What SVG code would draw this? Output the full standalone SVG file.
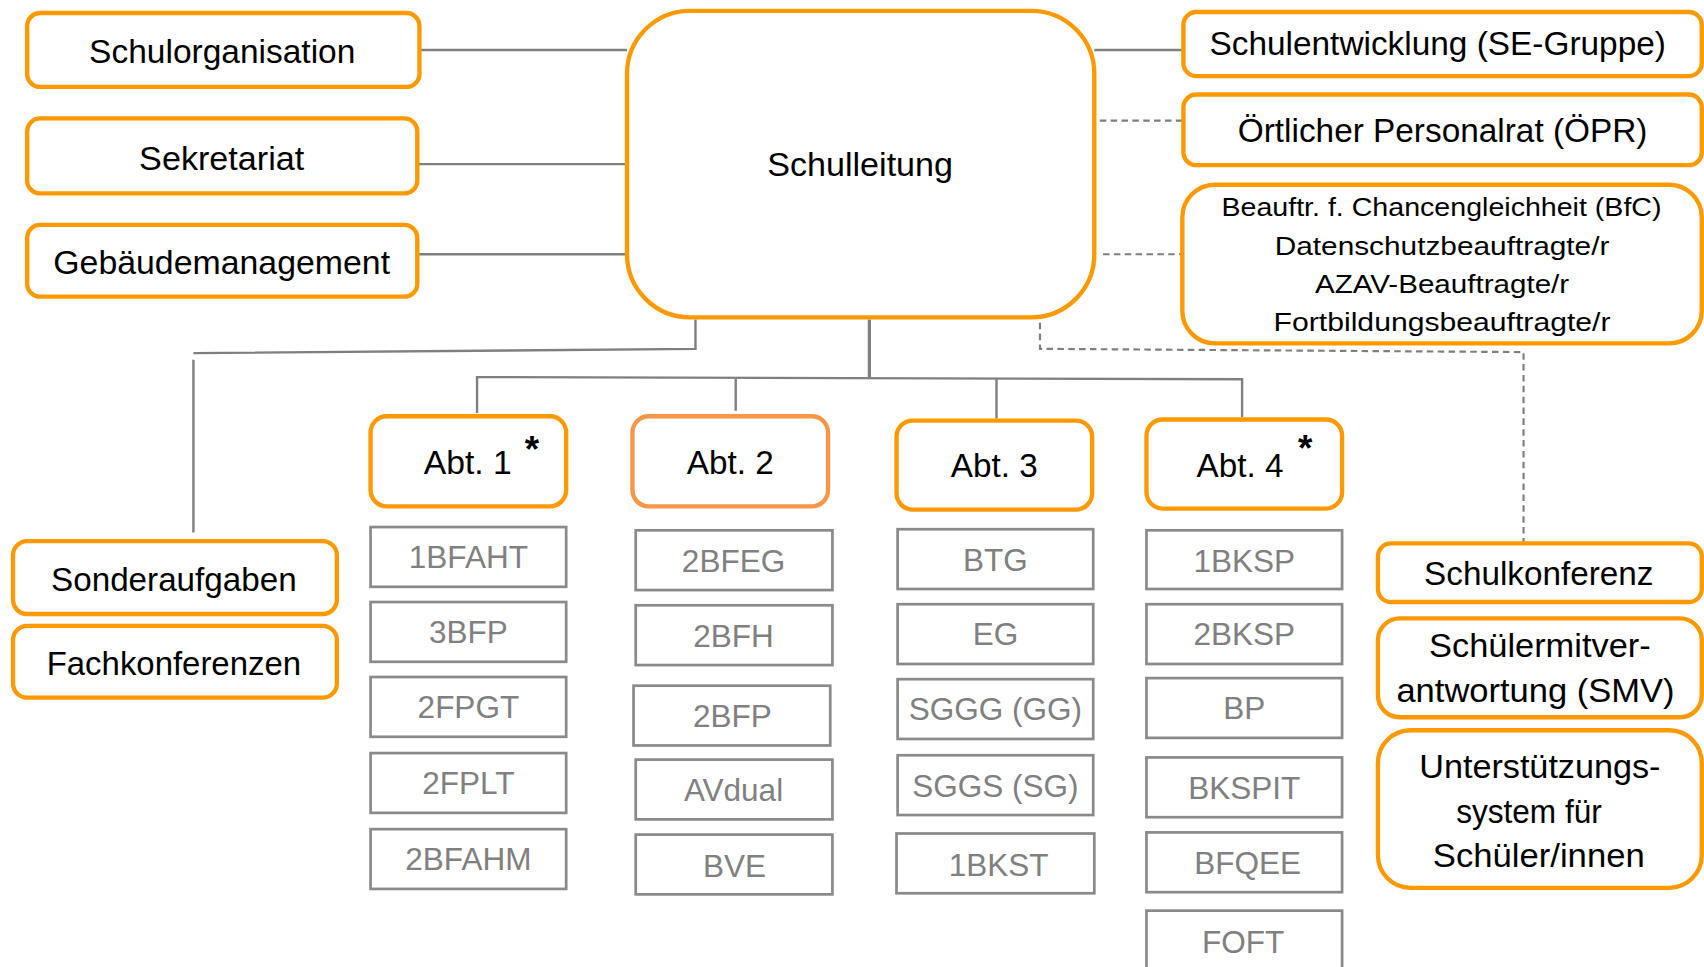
<svg xmlns="http://www.w3.org/2000/svg" width="1704" height="967" viewBox="0 0 1704 967">
<style>
.ob{fill:#fff;stroke:#FF9900;stroke-width:4}
.gb{fill:#fff;stroke:#8A8A8A;stroke-width:2.5}
.t{font-family:"Liberation Sans",Arial,sans-serif;font-size:30px;fill:#000;text-anchor:middle}
.s{font-size:24.5px}
.g{fill:#808080;font-size:29px}
.st{font-size:34px;font-weight:bold}
.ln{fill:none;stroke:#7F7F7F;stroke-width:2.2}
.dl{fill:none;stroke:#7F7F7F;stroke-width:2;stroke-dasharray:6 4}
</style>
<rect width="1704" height="967" fill="#fff"/>
<g transform="scale(1.0867)">
<g id="connectors">
<path class="ln" d="M386 46H577M384 151H577M384 234H577M1007 46H1089"/>
<path class="dl" d="M1012 111H1089M1015 234H1088M957 297V321L1402 324V500"/>
<path class="ln" d="M640 294V321L178 325M178 331V490"/>
<path class="ln" style="stroke-width:3" d="M800 294V347"/>
<path class="ln" d="M439 380V347L1143 349V384M677 348V378M917 349V385"/>
</g>
<g id="schulleitung"><rect class="ob" x="577" y="10" width="430" height="282" rx="58"/><text class="t" x="791.5" y="162" textLength="171" lengthAdjust="spacingAndGlyphs">Schulleitung</text></g>
<g id="schulorganisation"><rect class="ob" x="25" y="12" width="361" height="68" rx="12"/><text class="t" x="204.5" y="58" textLength="245" lengthAdjust="spacingAndGlyphs">Schulorganisation</text></g>
<g id="sekretariat"><rect class="ob" x="25" y="109" width="359" height="69" rx="12"/><text class="t" x="204" y="156" textLength="152" lengthAdjust="spacingAndGlyphs">Sekretariat</text></g>
<g id="gebaeudemanagement"><rect class="ob" x="25" y="207" width="359" height="66" rx="12"/><text class="t" x="204" y="252" textLength="310" lengthAdjust="spacingAndGlyphs">Gebäudemanagement</text></g>
<g id="schulentwicklung"><rect class="ob" x="1089" y="11" width="477" height="59" rx="12"/><text class="t" x="1323" y="51" textLength="420" lengthAdjust="spacingAndGlyphs">Schulentwicklung (SE-Gruppe)</text></g>
<g id="opr"><rect class="ob" x="1089" y="87" width="477" height="65" rx="12"/><text class="t" x="1327.5" y="131" textLength="377" lengthAdjust="spacingAndGlyphs">Örtlicher Personalrat (ÖPR)</text></g>
<g id="beauftragte"><rect class="ob" x="1088" y="170" width="478" height="146" rx="30"/>
<text class="t s" x="1326.5" y="199" textLength="405" lengthAdjust="spacingAndGlyphs">Beauftr. f. Chancengleichheit (BfC)</text>
<text class="t s" x="1327" y="235" textLength="308" lengthAdjust="spacingAndGlyphs">Datenschutzbeauftragte/r</text>
<text class="t s" x="1327" y="270" textLength="234" lengthAdjust="spacingAndGlyphs">AZAV-Beauftragte/r</text>
<text class="t s" x="1327" y="305" textLength="310" lengthAdjust="spacingAndGlyphs">Fortbildungsbeauftragte/r</text></g>
<g id="sonderaufgaben"><rect class="ob" x="12" y="498" width="298" height="67" rx="13"/><text class="t" x="160" y="544" textLength="226" lengthAdjust="spacingAndGlyphs">Sonderaufgaben</text></g>
<g id="fachkonferenzen"><rect class="ob" x="12" y="576" width="298" height="66" rx="13"/><text class="t" x="160" y="621" textLength="234" lengthAdjust="spacingAndGlyphs">Fachkonferenzen</text></g>
<g id="abt1"><rect class="ob" x="341" y="383" width="180" height="83" rx="15"/><text class="t" x="430.5" y="436" textLength="81" lengthAdjust="spacingAndGlyphs">Abt. 1</text><text class="t st" x="489.5" y="425">*</text></g>
<g id="abt2"><rect class="ob" style="stroke:#F79646" x="582" y="383" width="180" height="83" rx="15"/><text class="t" x="672" y="436" textLength="80" lengthAdjust="spacingAndGlyphs">Abt. 2</text></g>
<g id="abt3"><rect class="ob" x="825" y="387" width="180" height="82" rx="15"/><text class="t" x="915" y="439" textLength="80" lengthAdjust="spacingAndGlyphs">Abt. 3</text></g>
<g id="abt4"><rect class="ob" x="1055" y="386" width="180" height="82" rx="15"/><text class="t" x="1141" y="439" textLength="80" lengthAdjust="spacingAndGlyphs">Abt. 4</text><text class="t st" x="1201" y="424">*</text></g>
<g id="k-1BFAHT"><rect class="gb" x="341" y="485" width="180" height="55"/><text class="t g" x="431" y="523">1BFAHT</text></g>
<g id="k-3BFP"><rect class="gb" x="341" y="554" width="180" height="55"/><text class="t g" x="431" y="592">3BFP</text></g>
<g id="k-2FPGT"><rect class="gb" x="341" y="623" width="180" height="55"/><text class="t g" x="431" y="661">2FPGT</text></g>
<g id="k-2FPLT"><rect class="gb" x="341" y="693" width="180" height="55"/><text class="t g" x="431" y="731">2FPLT</text></g>
<g id="k-2BFAHM"><rect class="gb" x="341" y="763" width="180" height="55"/><text class="t g" x="431" y="801">2BFAHM</text></g>
<g id="k-2BFEG"><rect class="gb" x="585" y="488" width="181" height="55"/><text class="t g" x="675" y="526">2BFEG</text></g>
<g id="k-2BFH"><rect class="gb" x="585" y="557" width="181" height="55"/><text class="t g" x="675" y="595">2BFH</text></g>
<g id="k-2BFP"><rect class="gb" x="583" y="631" width="181" height="55"/><text class="t g" x="674" y="669">2BFP</text></g>
<g id="k-AVdual"><rect class="gb" x="585" y="699" width="181" height="55"/><text class="t g" x="675" y="737">AVdual</text></g>
<g id="k-BVE"><rect class="gb" x="585" y="768" width="181" height="55"/><text class="t g" x="676" y="807">BVE</text></g>
<g id="k-BTG"><rect class="gb" x="826" y="487" width="180" height="55"/><text class="t g" x="916" y="525">BTG</text></g>
<g id="k-EG"><rect class="gb" x="826" y="556" width="180" height="55"/><text class="t g" x="916" y="594">EG</text></g>
<g id="k-SGGG"><rect class="gb" x="826" y="625" width="180" height="55"/><text class="t g" x="916" y="663">SGGG (GG)</text></g>
<g id="k-SGGS"><rect class="gb" x="826" y="695" width="180" height="55"/><text class="t g" x="916" y="733">SGGS (SG)</text></g>
<g id="k-1BKST"><rect class="gb" x="825" y="767" width="182" height="55"/><text class="t g" x="919" y="806">1BKST</text></g>
<g id="k-1BKSP"><rect class="gb" x="1055" y="488" width="180" height="54"/><text class="t g" x="1145" y="526">1BKSP</text></g>
<g id="k-2BKSP"><rect class="gb" x="1055" y="556" width="180" height="55"/><text class="t g" x="1145" y="594">2BKSP</text></g>
<g id="k-BP"><rect class="gb" x="1055" y="624" width="180" height="55"/><text class="t g" x="1145" y="662">BP</text></g>
<g id="k-BKSPIT"><rect class="gb" x="1055" y="697" width="180" height="55"/><text class="t g" x="1145" y="735">BKSPIT</text></g>
<g id="k-BFQEE"><rect class="gb" x="1055" y="766" width="180" height="55"/><text class="t g" x="1148" y="804">BFQEE</text></g>
<g id="k-FOFT"><rect class="gb" x="1055" y="838" width="180" height="60"/><text class="t g" x="1144" y="877">FOFT</text></g>
<g id="schulkonferenz"><rect class="ob" x="1268" y="500" width="298" height="54" rx="12"/><text class="t" x="1416" y="538" textLength="211" lengthAdjust="spacingAndGlyphs">Schulkonferenz</text></g>
<g id="smv"><rect class="ob" x="1268" y="569" width="298" height="91" rx="20"/><text class="t" x="1417" y="605" textLength="204" lengthAdjust="spacingAndGlyphs">Schülermitver-</text><text class="t" x="1413" y="646" textLength="256" lengthAdjust="spacingAndGlyphs">antwortung (SMV)</text></g>
<g id="unterstuetzung"><rect class="ob" x="1268" y="672" width="298" height="145" rx="30"/><text class="t" x="1417" y="716" textLength="222" lengthAdjust="spacingAndGlyphs">Unterstützungs-</text><text class="t" x="1407" y="757" textLength="134" lengthAdjust="spacingAndGlyphs">system für</text><text class="t" x="1416" y="798" textLength="195" lengthAdjust="spacingAndGlyphs">Schüler/innen</text></g>
</g>
</svg>
